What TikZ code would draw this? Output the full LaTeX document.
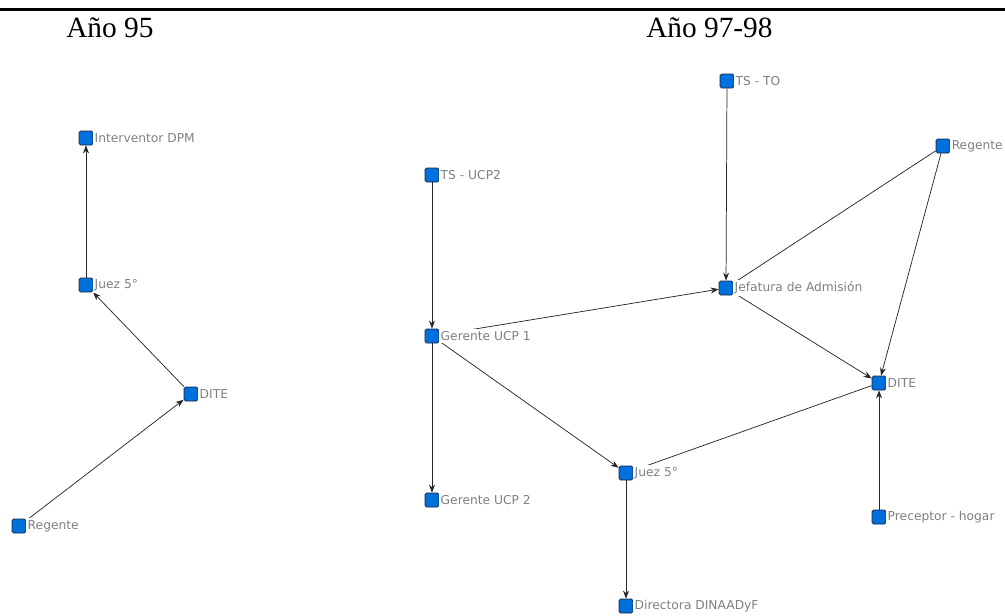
\documentclass[tikz,border=0pt]{standalone}
\usepackage{fontspec}
\setmainfont{Liberation Serif}
\newfontfamily\lblfont{DejaVu Sans}
\usetikzlibrary{arrows.meta}
\definecolor{nodeblue}{RGB}{0,112,220}
\definecolor{nodeedge}{RGB}{20,40,70}
\definecolor{lblgray}{RGB}{128,128,128}
\tikzset{
  sq/.style={rectangle, draw=nodeedge, fill=nodeblue, minimum size=10.5pt, inner sep=0pt, rounded corners=1.3pt, line width=0.6pt},
  lbl/.style={anchor=west, fill=white, text=lblgray, font=\lblfont\fontsize{9.2pt}{11pt}\selectfont, inner sep=1.6pt, xshift=-0.8pt},
  edge/.style={draw=black!85, line width=0.55pt},
  arr/.style={edge, -{Stealth[length=6pt,width=4.5pt]}},
  title/.style={font=\fontsize{22pt}{25pt}\selectfont, anchor=west, inner sep=0pt}
}
\begin{document}
\begin{tikzpicture}[x=0.75pt,y=-0.75pt]
\useasboundingbox (0,0) rectangle (1005,615);
\draw[line width=1.6pt] (0,9.5) -- (1005,9.5);
\node[title] (t1) at (66,28) {Año 95};
\node[title] (t2) at (646,28) {Año 97-98};

% Año 95
\node[sq] (a1) at (86,138) {};
\node[sq] (a2) at (86,285) {};
\node[sq] (a3) at (191,394) {};
\node[sq] (a4) at (19,526) {};
\draw[arr] (a2) -- (a1);
\draw[arr] (a3) -- (a2);
\draw[arr] (a4) -- (a3);

% Año 97-98
\node[sq] (b1) at (727,81) {};
\node[sq] (b2) at (943,146) {};
\node[sq] (b3) at (432,175) {};
\node[sq] (b4) at (726,288) {};
\node[sq] (b5) at (432,336) {};
\node[sq] (b6) at (879,383) {};
\node[sq] (b7) at (626,473) {};
\node[sq] (b8) at (432,500) {};
\node[sq] (b9) at (879,517) {};
\node[sq] (b10) at (626,606) {};
\draw[arr] (b1) -- (b4);
\draw[arr] (b3) -- (b5);
\draw[arr] (b5) -- (b4);
\draw[arr] (b5) -- (b8);
\draw[arr] (b5) -- (b7);
\draw[arr] (b7) -- (b10);
\draw[arr] (b4) -- (b6);
\draw[arr] (b2) -- (b6);
\draw[arr] (b9) -- (b6);
\draw[edge] (b2) -- (b4);
\draw[edge] (b7) -- (b6);

% labels
\node[lbl] (la1) at (a1.east) {Interventor DPM};
\node[lbl] (la2) at (a2.east) {Juez 5°};
\node[lbl] (la3) at (a3.east) {DITE};
\node[lbl] (la4) at (a4.east) {Regente};
\node[lbl] (lb1) at (b1.east) {TS - TO};
\node[lbl] (lb2) at (b2.east) {Regente};
\node[lbl] (lb3) at (b3.east) {TS - UCP2};
\node[lbl] (lb4) at (b4.east) {Jefatura de Admisión};
\node[lbl] (lb5) at (b5.east) {Gerente UCP 1};
\node[lbl] (lb6) at (b6.east) {DITE};
\node[lbl] (lb7) at (b7.east) {Juez 5°};
\node[lbl] (lb8) at (b8.east) {Gerente UCP 2};
\node[lbl] (lb9) at (b9.east) {Preceptor - hogar};
\node[lbl] (lb10) at (b10.east) {Directora DINAADyF};
\end{tikzpicture}
\end{document}
